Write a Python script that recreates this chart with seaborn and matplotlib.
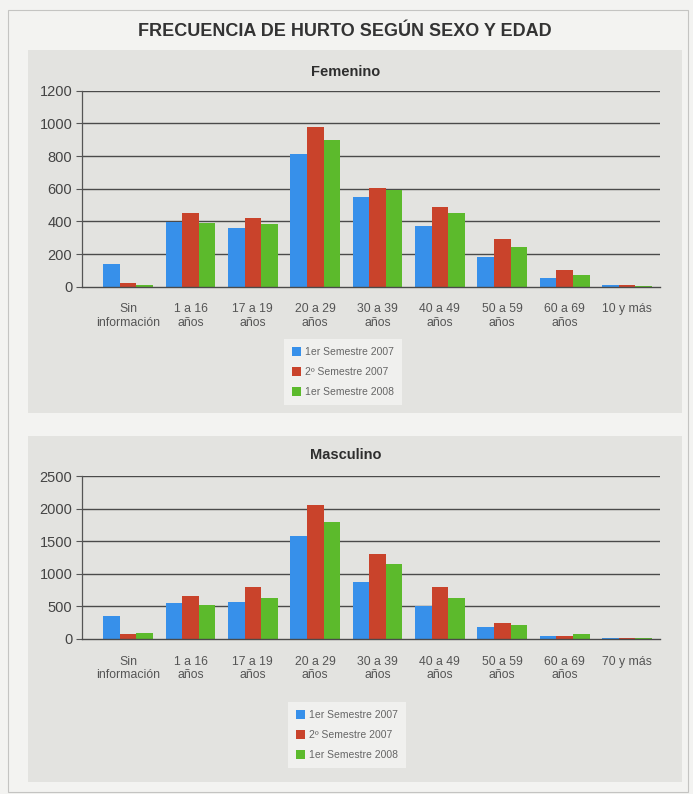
import matplotlib
matplotlib.use("Agg")
import matplotlib.pyplot as plt
from matplotlib.patches import Rectangle
import seaborn as sns
import pandas as pd

# ---- data ----
series = ["1er Semestre 2007", "2º Semestre 2007", "1er Semestre 2008"]
colors = ["#3790ea", "#c9432b", "#5cba2c"]

fem_categories = ["Sin\ninformación", "1 a 16\naños", "17 a 19\naños", "20 a 29\naños",
                  "30 a 39\naños", "40 a 49\naños", "50 a 59\naños", "60 a 69\naños", "10 y más"]
fem_s1_2007 = [140, 395, 360, 812, 550, 370, 180, 55, 8]
fem_s2_2007 = [25, 452, 420, 980, 605, 485, 292, 100, 10]
fem_s1_2008 = [12, 392, 383, 897, 590, 450, 240, 72, 6]

mas_categories = ["Sin\ninformación", "1 a 16\naños", "17 a 19\naños", "20 a 29\naños",
                  "30 a 39\naños", "40 a 49\naños", "50 a 59\naños", "60 a 69\naños", "70 y más"]
mas_s1_2007 = [350, 550, 560, 1580, 870, 500, 190, 50, 20]
mas_s2_2007 = [70, 655, 800, 2060, 1310, 800, 240, 45, 20]
mas_s1_2008 = [85, 515, 625, 1790, 1150, 625, 215, 70, 12]

fem_yticks = [0, 200, 400, 600, 800, 1000, 1200]
mas_yticks = [0, 500, 1000, 1500, 2000, 2500]

title = "FRECUENCIA DE HURTO SEGÚN SEXO Y EDAD"

def long_df(cats, vals):
    rows = []
    for s, v in zip(series, vals):
        for c, x in zip(cats, v):
            rows.append({"cat": c, "serie": s, "val": x})
    return pd.DataFrame(rows)

sns.set_theme(style="white")
plt.rcParams["font.family"] = ["Liberation Sans", "DejaVu Sans"]

W, H = 693, 794
fig = plt.figure(figsize=(W / 100, H / 100), dpi=100)
fig.patch.set_facecolor("#f3f3f1")

# outer border and panel backgrounds
fig.patches.append(Rectangle((8 / W, 1 - 792 / H), 680 / W, 782 / H, transform=fig.transFigure,
                             facecolor="none", edgecolor="#c4c4c2", lw=0.8, zorder=-10))
fig.patches.append(Rectangle((28 / W, 1 - 413 / H), 654 / W, 363 / H, transform=fig.transFigure,
                             facecolor="#e3e3e0", edgecolor="none", zorder=-10))
fig.patches.append(Rectangle((28 / W, 1 - 782 / H), 654 / W, 346 / H, transform=fig.transFigure,
                             facecolor="#e3e3e0", edgecolor="none", zorder=-10))

fig.text(345 / W, 1 - 31 / H, title, ha="center", va="center", fontsize=13,
         fontweight="bold", color="#333333")


def draw(rect, cats, vals, yticks, ptitle, title_y, leg_center):
    ax = fig.add_axes(rect)
    ax.set_zorder(1)
    df = long_df(cats, vals)
    sns.barplot(data=df, x="cat", y="val", hue="serie", palette=colors, width=0.8,
                order=cats, hue_order=series, ax=ax, saturation=1, legend=True,
                linewidth=0, edgecolor="none")
    ax.set_facecolor("none")
    ax.set_xlim(-0.74, 8.53)
    ax.set_ylim(yticks[0], yticks[-1])
    ax.set_yticks(yticks)
    ax.set_xlabel("")
    ax.set_ylabel("")
    for y in yticks[1:]:
        ax.axhline(y, color="#4a4a4a", lw=1.0, zorder=0.5)
    for s in ["top", "right"]:
        ax.spines[s].set_visible(False)
    ax.spines["left"].set_color("#555555")
    ax.spines["bottom"].set_color("#4a4a4a")
    ax.spines["left"].set_linewidth(0.9)
    ax.spines["bottom"].set_linewidth(1.0)
    ax.tick_params(axis="y", left=True, length=4, width=0.8, color="#555555",
                   labelsize=10.5, labelcolor="#444444", pad=3)
    ax.tick_params(axis="x", bottom=False, labelsize=8.8, labelcolor="#555555", pad=6)
    for lbl in ax.get_xticklabels():
        lbl.set_linespacing(1.15)
    handles, labels = ax.get_legend_handles_labels()
    ax.get_legend().remove()
    leg = ax.legend(handles, labels, loc="center", bbox_to_anchor=leg_center,
                    bbox_transform=fig.transFigure, fontsize=7.5, frameon=True,
                    handlelength=0.8, handleheight=0.9, handletextpad=0.4,
                    labelspacing=0.95, borderpad=0.8, fancybox=False)
    leg.get_frame().set_facecolor("#f4f4f2")
    leg.get_frame().set_edgecolor("none")
    for t in leg.get_texts():
        t.set_color("#666666")
    fig.text(346 / W, 1 - title_y / H, ptitle, ha="center", va="center", fontsize=10.5,
             fontweight="bold", color="#2e2e2e")
    return ax


draw([82 / W, 1 - 286.7 / H, 578 / W, 196 / H], fem_categories,
     [fem_s1_2007, fem_s2_2007, fem_s1_2008], fem_yticks, "Femenino", 72,
     (343 / W, 1 - 372 / H))
draw([82 / W, 1 - 639 / H, 578 / W, 163 / H], mas_categories,
     [mas_s1_2007, mas_s2_2007, mas_s1_2008], mas_yticks, "Masculino", 455,
     (347 / W, 1 - 735 / H))

fig.savefig("out.png", dpi=100, facecolor=fig.get_facecolor())
